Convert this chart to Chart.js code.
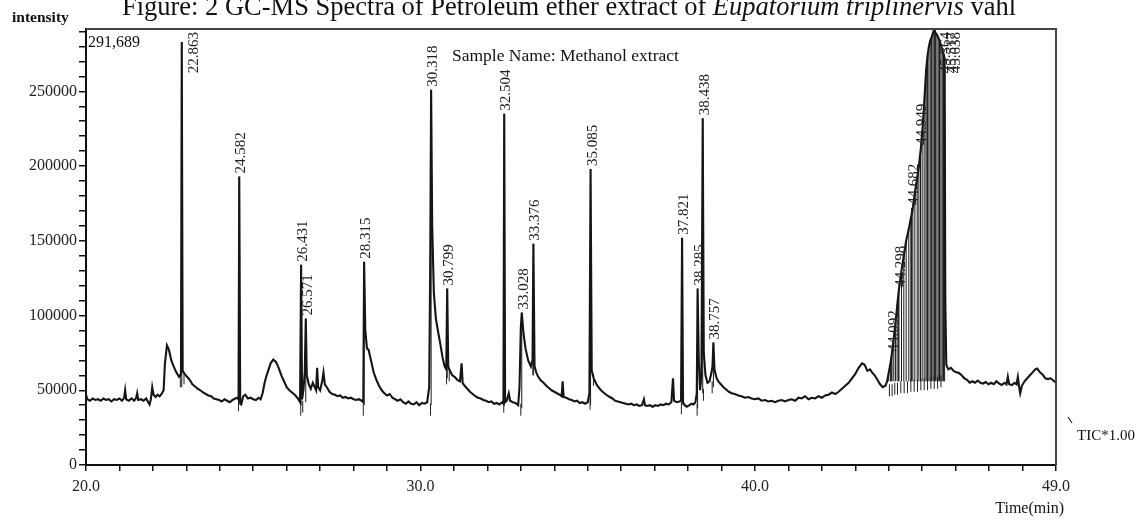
<!DOCTYPE html>
<html>
<head>
<meta charset="utf-8">
<script src="https://cdn.jsdelivr.net/npm/chart.js@4.4.1/dist/chart.umd.min.js"></script>
<style>
  html, body { margin: 0; padding: 0; background: #fff; }
  #wrap { width: 1145px; height: 520px; position: relative; }
</style>
</head>
<body>
<div id="wrap"><canvas id="c" width="1145" height="520"></canvas></div>
<script>
// ---- chromatogram trace (time in min, intensity) ----
const traceTime = [
 20.00,20.04,20.12,20.2,20.28,20.36,20.44,20.52,20.6,20.68,20.76,20.84,20.92,21.0,21.08,21.14,21.17,21.2,21.28,21.36,21.44,21.5,21.53,21.56,21.64,21.72,21.8,21.86,21.9,21.94,21.98,22.02,22.08,22.14,22.2,22.26,22.32,22.36,22.42,22.48,22.55,22.62,22.7,22.78,22.84,22.863,22.89,22.95,23.02,23.1,23.18,23.26,23.34,23.42,23.5,23.58,23.66,23.74,23.82,23.9,23.98,24.06,24.14,24.22,24.3,24.38,24.46,24.52,24.56,24.582,24.61,24.64,24.7,24.76,24.84,24.92,25.0,25.08,25.16,25.22,25.28,25.34,25.4,25.46,25.52,25.6,25.68,25.76,25.84,25.92,26.0,26.08,26.16,26.24,26.32,26.4,26.431,26.46,26.5,26.54,26.571,26.6,26.66,26.72,26.78,26.84,26.88,26.91,26.94,27.0,27.06,27.1,27.14,27.2,27.28,27.36,27.44,27.52,27.6,27.68,27.76,27.84,27.92,28.0,28.08,28.16,28.24,28.29,28.315,28.35,28.4,28.45,28.52,28.6,28.68,28.76,28.84,28.92,29.0,29.08,29.16,29.24,29.32,29.4,29.48,29.56,29.64,29.72,29.8,29.88,29.96,30.04,30.12,30.2,30.26,30.29,30.318,30.35,30.4,30.46,30.52,30.6,30.66,30.72,30.77,30.799,30.83,30.88,30.95,31.02,31.1,31.18,31.23,31.26,31.32,31.4,31.48,31.56,31.64,31.72,31.8,31.88,31.96,32.04,32.12,32.2,32.28,32.36,32.44,32.48,32.504,32.53,32.58,32.64,32.68,32.76,32.84,32.92,32.96,33.0,33.028,33.08,33.14,33.22,33.3,33.35,33.376,33.41,33.46,33.52,33.6,33.68,33.76,33.84,33.92,34.0,34.08,34.16,34.22,34.25,34.28,34.36,34.44,34.52,34.6,34.68,34.76,34.84,34.92,35.0,35.05,35.085,35.12,35.18,35.26,35.34,35.42,35.5,35.58,35.66,35.74,35.82,35.9,35.98,36.06,36.14,36.22,36.3,36.38,36.46,36.54,36.62,36.68,36.71,36.78,36.86,36.94,37.02,37.1,37.18,37.26,37.34,37.42,37.5,37.55,37.58,37.66,37.74,37.79,37.821,37.85,37.9,37.96,38.04,38.1,38.16,38.22,38.26,38.285,38.32,38.36,38.4,38.438,38.47,38.52,38.58,38.64,38.7,38.73,38.757,38.79,38.84,38.9,38.98,39.06,39.14,39.22,39.3,39.4,39.5,39.6,39.7,39.8,39.9,40.0,40.1,40.2,40.3,40.4,40.5,40.6,40.7,40.8,40.9,41.0,41.1,41.2,41.3,41.4,41.5,41.6,41.7,41.8,41.9,42.0,42.1,42.2,42.3,42.4,42.5,42.6,42.7,42.8,42.9,43.0,43.1,43.2,43.28,43.36,43.44,43.5,43.58,43.66,43.74,43.82,43.9,43.95,44.0,44.05,44.09,44.15,44.2,44.25,44.3,44.38,44.45,44.52,44.6,44.66,44.72,44.78,44.85,44.9,44.96,45.02,45.08,45.12,45.16,45.2,45.24,45.28,45.32,45.36,45.4,45.44,45.48,45.52,45.56,45.6,45.64,45.67,45.69,45.72,45.78,45.86,45.94,46.02,46.1,46.18,46.26,46.34,46.42,46.5,46.58,46.66,46.74,46.82,46.9,46.98,47.06,47.14,47.22,47.3,47.38,47.46,47.52,47.56,47.6,47.68,47.76,47.82,47.86,47.9,47.93,47.98,48.06,48.14,48.22,48.3,48.38,48.44,48.52,48.6,48.68,48.76,48.84,48.92,49.0,49.1,49.22
];
const traceIntensity = [
 47000,44000,43000,44500,43500,44000,43000,44500,43500,44000,42500,44000,43500,44500,43000,45000,50000,44000,43000,44500,43000,45000,48000,43500,44000,43000,44500,42000,40500,44000,52000,47000,45500,47000,46000,47500,50000,68000,80000,77000,70000,66000,62000,59000,61000,283000,63000,61000,59000,57000,54000,52500,51000,50000,48500,47500,46500,46000,44500,44000,43500,42500,44000,43000,42000,43500,44500,45000,44000,193000,41000,40500,46000,47000,44500,45000,44000,43500,45000,44000,48000,55000,60000,64000,68000,70500,69000,65000,60000,56000,52000,50000,48500,47000,45000,42000,134000,44000,50000,62000,98000,60000,54000,51000,55000,52000,50000,65000,52000,50000,56000,62000,54000,52000,49000,47500,47000,46000,46500,45000,45500,44500,45000,44000,43500,44000,43000,42000,136000,90000,78000,77000,70000,62000,57000,53000,50000,48000,46500,47500,45000,44000,43000,44000,42000,41000,42500,41000,40500,42000,40000,41500,41000,42000,52000,130000,251000,160000,115000,98000,90000,80000,72000,66000,64000,118000,66000,63000,60000,59000,57000,56000,68000,55000,53000,51000,49000,47500,46000,45000,44500,43500,43000,42000,42500,41000,41500,40500,42000,41000,235000,42000,43000,48000,43000,42000,41500,40000,52000,92000,102000,88000,78000,70000,66000,70000,148000,66000,62000,59000,56500,55000,53000,51500,50000,49000,48000,47000,46000,56000,45500,45000,44000,43500,42500,43000,41500,42000,41000,42000,48000,198000,63000,58000,54000,51500,49500,48000,46500,45500,44500,43000,42500,42000,41500,41000,40500,41000,40000,40500,39500,40000,44000,40000,39500,40000,39000,40000,39500,40500,40000,41000,40500,42000,58000,43000,42000,42500,43000,152000,42000,40000,39000,40000,41000,40500,42000,48000,118000,70000,50000,60000,232000,75000,60000,55000,56000,62000,66000,82000,64000,59000,56000,54000,52000,50500,49000,48000,47500,46500,46000,45000,45500,44500,44000,44500,43000,43500,42500,43000,42000,43000,43500,42500,43500,44000,43000,45000,44500,46000,44000,45000,44500,46000,45000,46500,47000,48500,47500,49000,51000,53000,55000,58000,61000,65000,68000,67000,63000,64000,62000,60000,57000,54000,52000,53000,56000,62000,68000,74000,85000,95000,106000,117000,130000,140000,150000,158000,165000,172000,182000,192000,200000,212000,228000,250000,265000,274000,280000,284000,286000,289000,291689,289000,288000,286000,284000,281000,278000,275000,272000,110000,67000,64000,65000,63000,62000,61500,60000,58000,57000,55000,56000,55000,56500,55000,54500,55500,54000,55000,54000,56000,54500,53500,55000,54000,59000,54000,53500,55000,54000,59000,52000,48000,53000,56000,58000,60000,62000,64000,64500,62000,60500,58000,57500,58000,56500,55000,48000,42000
];

// ---- labelled peaks ----
const peakTimes  = [22.863,24.582,26.431,26.571,28.315,30.318,30.799,32.504,33.028,33.376,35.085,37.821,38.285,38.438,38.757,44.092,44.298,44.682,44.949,45.36,45.52,45.64];
const peakTops   = [283000,193000,134000,98000,136000,251000,118000,235000,102000,148000,198000,152000,118000,232000,82000,74000,117000,172000,212000,291689,284000,275000];
const peakBases  = [52000,42000,40000,42000,40000,40000,58000,40000,38000,60000,40000,40000,38000,48000,52000,56000,56000,56000,56000,57000,57000,58000];
const peakLabels = ['22.863','24.582','26.431','26.571','28.315','30.318','30.799','32.504','33.028','33.376','35.085','37.821','38.285','38.438','38.757','44.092','44.298','44.682','44.949','45.364','45.517','45.638'];

// ---- unresolved cluster: drop lines at these trace times ----
const clusterDropTimes = [44.0,44.05,44.09,44.15,44.2,44.25,44.3,44.38,44.45,44.52,44.6,44.66,44.72,44.78,44.85,44.9,44.96,45.02,45.08,45.12,45.16,45.2,45.24,45.28,45.32,45.36,45.4,45.44,45.48,45.52,45.56,45.6,45.64,45.67];
const clusterBase = 56000;

// ---- integration markers (peak start/end) ----
const markerTimes  = [22.82,22.93,24.56,26.42,26.48,28.29,30.3,30.78,30.86,32.49,33.0,33.36,35.07,35.17,37.8,38.27,38.46,38.72,44.02,44.1,44.18,44.26,44.36,44.46,44.56,44.66,44.76,44.86,44.96,45.06,45.16,45.26,45.36,45.46,45.56];
const markerValues = [56000,58000,40000,37000,39000,37000,37000,58000,60000,39000,37000,64000,41000,57000,38000,37000,47000,52000,50000,50000,51000,51000,52000,52000,52000,53000,53000,53000,54000,54000,54000,55000,55000,55000,56000];

// ---- axes ----
const xMin = 20, xMax = 49;
const yMin = 0, yMax = 291689;
const xTicks = [20,21,22,23,24,25,26,27,28,29,30,31,32,33,34,35,36,37,38,39,40,41,42,43,44,45,46,47,48,49];
const xTickLabels = {20:'20.0', 30:'30.0', 40:'40.0', 49:'49.0'};
const yTicks = [0,10000,20000,30000,40000,50000,60000,70000,80000,90000,100000,110000,120000,130000,140000,150000,160000,170000,180000,190000,200000,210000,220000,230000,240000,250000,260000,270000,280000,290000];
const yTickLabels = {0:'0', 50000:'50000', 100000:'100000', 150000:'150000', 200000:'200000', 250000:'250000'};

// ---- build datasets ----
const tracePts = traceTime.map((t, i) => ({x: t, y: traceIntensity[i]}));
const dropPts = [];
peakTimes.forEach((t, i) => {
  dropPts.push({x: t, y: peakBases[i]}, {x: t, y: peakTops[i]}, {x: t, y: null});
});
clusterDropTimes.forEach(t => {
  const idx = traceTime.indexOf(t);
  if (idx >= 0) dropPts.push({x: t, y: clusterBase}, {x: t, y: traceIntensity[idx]}, {x: t, y: null});
});
const markerPts = markerTimes.map((t, i) => ({x: t, y: markerValues[i]}));

const SERIF = '"Liberation Serif", "Times New Roman", serif';

const decor = {
  id: 'decor',
  afterDatasetsDraw(chart) {
    const ctx = chart.ctx, a = chart.chartArea;
    const xs = chart.scales.x, ys = chart.scales.y;
    ctx.save();
    // frame top & right
    ctx.strokeStyle = '#444'; ctx.lineWidth = 2;
    ctx.beginPath();
    ctx.moveTo(a.left, a.top); ctx.lineTo(a.right, a.top); ctx.lineTo(a.right, a.bottom);
    ctx.stroke();
    // peak labels
    ctx.fillStyle = '#222';
    ctx.font = '15px ' + SERIF;
    ctx.textBaseline = 'middle';
    ctx.textAlign = 'left';
    peakTimes.forEach((t, i) => {
      const px = xs.getPixelForValue(t);
      const py = ys.getPixelForValue(peakTops[i]);
      const w = ctx.measureText(peakLabels[i]).width;
      ctx.save();
      if (py - 3 - w < a.top + 1) {
        ctx.translate(px + 12, a.top + 3 + w);
      } else {
        ctx.translate(px + 2, py - 3);
      }
      ctx.rotate(-Math.PI / 2);
      ctx.fillText(peakLabels[i], 0, 0);
      ctx.restore();
    });
    ctx.restore();
  },
  afterDraw(chart) {
    const ctx = chart.ctx, a = chart.chartArea;
    ctx.save();
    ctx.fillStyle = '#111';
    ctx.textBaseline = 'alphabetic';
    // title (cropped at the top in the reference)
    const parts = [
      ['Figure: 2 GC-MS Spectra of Petroleum ether extract of ', 'normal'],
      ['Eupatorium triplinervis', 'italic'],
      [' vahl', 'normal']
    ];
    const fs = 26.5;
    let total = 0;
    parts.forEach(p => { ctx.font = (p[1] === 'italic' ? 'italic ' : '') + fs + 'px ' + SERIF; total += ctx.measureText(p[0]).width; });
    let x = 569 - total / 2;
    parts.forEach(p => {
      ctx.font = (p[1] === 'italic' ? 'italic ' : '') + fs + 'px ' + SERIF;
      ctx.fillText(p[0], x, 15);
      x += ctx.measureText(p[0]).width;
    });
    // intensity
    ctx.font = 'bold 15.5px ' + SERIF;
    ctx.fillText('intensity', 12, 22);
    // max value
    ctx.font = '16px ' + SERIF;
    ctx.fillText('291,689', a.left + 2, 47);
    // sample name
    ctx.font = '17.5px ' + SERIF;
    ctx.fillText('Sample Name: Methanol extract', 452, 61);
    // TIC
    ctx.font = '15px ' + SERIF;
    ctx.fillText('TIC*1.00', 1077, 440);
    ctx.strokeStyle = '#222'; ctx.lineWidth = 1.2;
    ctx.beginPath(); ctx.moveTo(1068, 417); ctx.lineTo(1072, 423); ctx.stroke();
    // Time(min)
    ctx.font = '16px ' + SERIF;
    ctx.textAlign = 'right';
    ctx.fillText('Time(min)', 1064, 513);
    ctx.restore();
  }
};

new Chart(document.getElementById('c'), {
  type: 'line',
  data: {
    datasets: [
      { data: tracePts, borderColor: '#151515', borderWidth: 2.1, pointRadius: 0, tension: 0,
        clip: {left: 0, top: 0, right: 20, bottom: 0} },
      { data: dropPts, borderColor: '#1a1a1a', borderWidth: 1, pointRadius: 0, tension: 0, spanGaps: false },
      { type: 'scatter', data: markerPts, showLine: false, pointStyle: 'line', rotation: 90,
        pointRadius: 6, borderColor: '#222', borderWidth: 1, backgroundColor: '#222' }
    ]
  },
  options: {
    responsive: false,
    animation: false,
    events: [],
    layout: { padding: { left: 0, right: 89, top: 29, bottom: 0 } },
    plugins: { legend: { display: false }, tooltip: { enabled: false } },
    scales: {
      x: {
        type: 'linear', min: xMin, max: xMax,
        afterFit: s => { s.height = 55; },
        afterBuildTicks: s => { s.ticks = xTicks.map(v => ({value: v})); },
        border: { display: true, color: '#111', width: 2 },
        grid: { drawOnChartArea: false, drawTicks: true, tickLength: 6, color: '#111', lineWidth: 1.5 },
        ticks: {
          autoSkip: false, maxRotation: 0, minRotation: 0, padding: 6, color: '#222',
          font: { family: SERIF, size: 16 },
          callback: v => xTickLabels[v] || ''
        }
      },
      y: {
        type: 'linear', min: yMin, max: yMax,
        afterFit: s => { s.width = 86; },
        afterBuildTicks: s => { s.ticks = yTicks.map(v => ({value: v})); },
        border: { display: true, color: '#111', width: 2 },
        grid: { drawOnChartArea: false, drawTicks: true, tickLength: 7, color: '#111', lineWidth: 1.5 },
        ticks: {
          autoSkip: false, padding: 2, color: '#222',
          font: { family: SERIF, size: 16 },
          callback: v => yTickLabels[v] || ''
        }
      }
    }
  },
  plugins: [decor]
});
</script>
</body>
</html>
